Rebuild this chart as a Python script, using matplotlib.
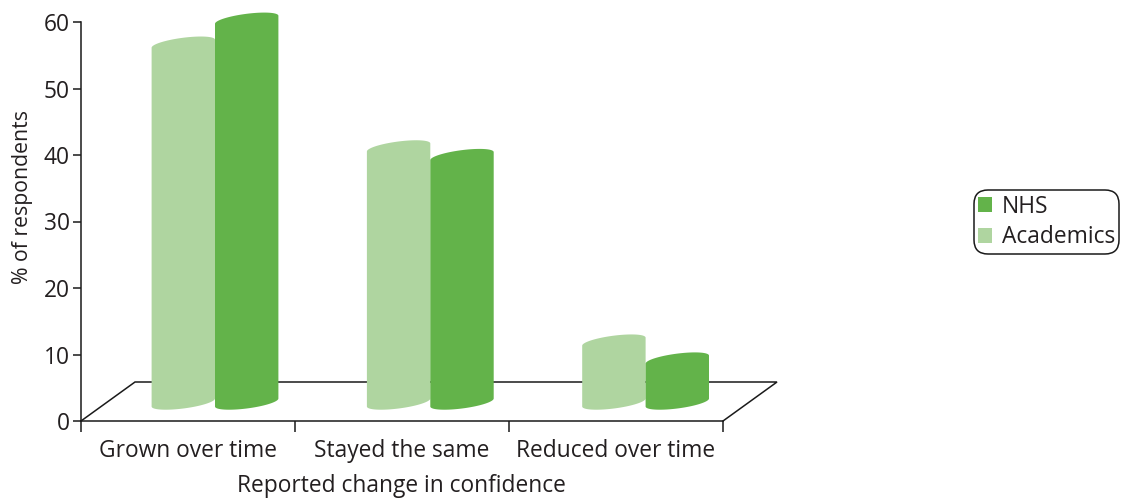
import numpy as np
import matplotlib
matplotlib.use("Agg")
import matplotlib.pyplot as plt
from matplotlib.patches import Polygon, Patch

plt.rcParams["font.family"] = ["Open Sans", "DejaVu Sans"]

categories = ["Grown over time", "Stayed the same", "Reduced over time"]
academics = [53.95, 38.35, 9.15]
nhs = [57.55, 37.05, 6.45]
y_ticks = [0, 10, 20, 30, 40, 50, 60]

NHS_COL = "#63B34A"
ACAD_COL = "#AFD5A0"
TEXT_COL = "#231F20"
LINE_COL = "#1a1a1a"
FS = 16.4

W, H = 1123, 499
fig = plt.figure(figsize=(W / 100, H / 100), dpi=100)
ax = fig.add_axes([81 / W, (H - 421) / H, 642 / W, 399 / H])
ax.set_xlim(0, 3)
ax.set_ylim(0, 60)

# floor depth and cylinder shape, in data units
depth_x, depth_y = 54 / 214, 39 / 6.65
half_w = 31.7 / 214
tilt, round_up = 4 / 6.65, 6 / 6.65
group_step = 215.3 / 214
base = depth_y / 2 - 0.15


def cylinder(xc, value, color):
    t = np.linspace(0, np.pi, 60)
    top_x = xc + half_w * np.cos(t)
    top_y = base + value + round_up * np.sin(t) + tilt * np.cos(t)
    bot_x = xc - half_w * np.cos(t)
    bot_y = base - round_up * np.sin(t) - tilt * np.cos(t)
    pts = np.column_stack([np.r_[top_x, bot_x], np.r_[top_y, bot_y]])
    ax.add_patch(Polygon(pts, closed=True, facecolor=color, edgecolor="none",
                         clip_on=False, zorder=3))


# floor parallelogram
ax.plot([0, depth_x, 3 + depth_x, 3], [0, depth_y, depth_y, 0], color=LINE_COL,
        lw=1.1, clip_on=False, zorder=2, solid_joinstyle="miter")

for i in range(3):
    xc = i * group_step + 0.5 + depth_x / 2
    cylinder(xc - half_w, academics[i], ACAD_COL)
    cylinder(xc + half_w, nhs[i], NHS_COL)

for s in ["top", "right"]:
    ax.spines[s].set_visible(False)
for s in ["left", "bottom"]:
    ax.spines[s].set_linewidth(1.1)
    ax.spines[s].set_color(LINE_COL)
    ax.spines[s].set_zorder(2)

ax.set_yticks(y_ticks)
ax.tick_params(axis="y", length=6, width=1.1, color=LINE_COL, labelsize=FS,
               labelcolor=TEXT_COL, pad=2)
ax.set_xticks([0, 1, 2, 3])
ax.set_xticklabels([])
ax.tick_params(axis="x", which="major", length=8, width=1.1, color=LINE_COL)
ax.set_xticks([0.5, 1.5, 2.5], minor=True)
ax.set_xticklabels(categories, minor=True)
ax.tick_params(axis="x", which="minor", length=0, labelsize=FS,
               labelcolor=TEXT_COL, pad=13)

fig.text(401 / W, 1 - 486.5 / H, "Reported change in confidence", ha="center", va="center",
         fontsize=FS, color=TEXT_COL)
fig.text(23 / W, 1 - 197 / H, "% of respondents", ha="center", va="center",
         rotation=90, fontsize=15.3, color=TEXT_COL)

handles = [Patch(facecolor=NHS_COL, label="NHS"), Patch(facecolor=ACAD_COL, label="Academics")]
leg = fig.legend(handles=handles, loc="center", bbox_to_anchor=(1046.5 / W, 1 - 222 / H),
                 fontsize=FS, frameon=True, fancybox=True, handlelength=0.62, handleheight=0.62,
                 handletextpad=0.42, labelspacing=0.3, borderpad=0.18, borderaxespad=0,
                 labelcolor=TEXT_COL)
frame = leg.get_frame()
frame.set_edgecolor(LINE_COL)
frame.set_linewidth(1.1)
frame.set_alpha(1)
frame.set_boxstyle("round", pad=0, rounding_size=0.6)

fig.savefig("out.png", dpi=100)
